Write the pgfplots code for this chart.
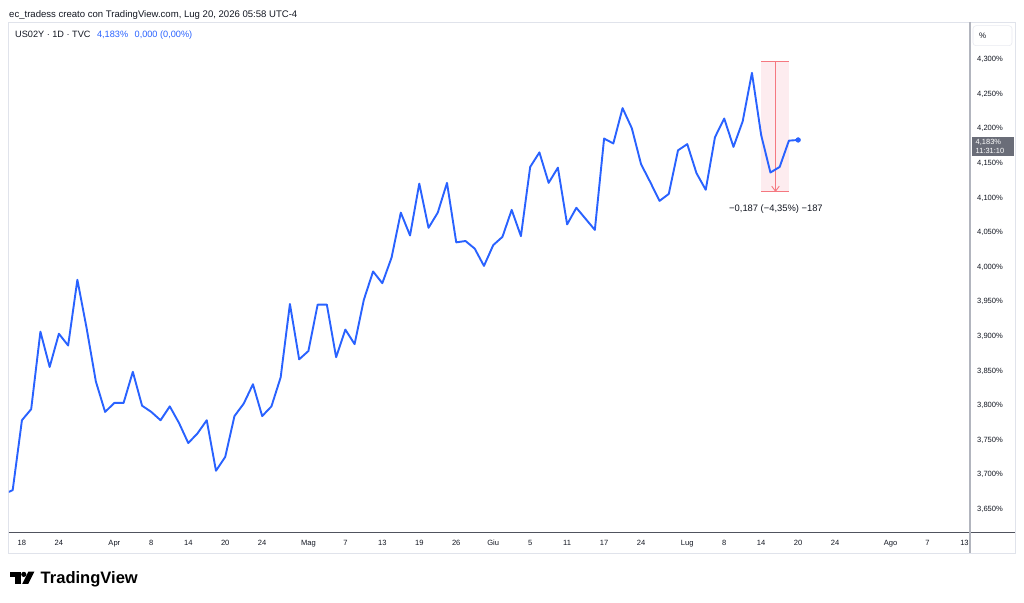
\documentclass[border=0pt]{standalone}
\usepackage{pgfplots}
\pgfplotsset{compat=1.18}
\usepackage{pgfplotstable}
\usepackage{fontspec}
\setmainfont{Liberation Sans}
\definecolor{tvblue}{HTML}{2962FF}
\definecolor{tvtext}{HTML}{131722}
\definecolor{tvframe}{HTML}{E0E3EB}
\definecolor{tvsep}{HTML}{B2B5BE}
\definecolor{tvaxis}{HTML}{50535E}
\definecolor{tvlabel}{HTML}{6A6D78}
\definecolor{mfill}{HTML}{FDEFF1}
\definecolor{mline}{HTML}{F2757C}

\pgfplotstableread{
x y
-1 3.671
0 3.677
1 3.778
2 3.794
3 3.906
4 3.855
5 3.903
6 3.886
7 3.981
8 3.911
9 3.834
10 3.790
11 3.803
12 3.803
13 3.848
14 3.799
15 3.790
16 3.778
17 3.798
18 3.774
19 3.745
20 3.759
21 3.778
22 3.705
23 3.725
24 3.784
25 3.802
26 3.830
27 3.784
28 3.798
29 3.840
30 3.946
31 3.866
32 3.878
33 3.945
34 3.945
35 3.869
36 3.909
37 3.888
38 3.952
39 3.993
40 3.976
41 4.013
42 4.078
43 4.045
44 4.120
45 4.056
46 4.078
47 4.121
48 4.035
49 4.037
50 4.026
51 4.001
52 4.031
53 4.043
54 4.082
55 4.044
56 4.144
57 4.165
58 4.121
59 4.143
60 4.061
61 4.085
62 4.069
63 4.053
64 4.185
65 4.178
66 4.229
67 4.200
68 4.148
69 4.122
70 4.095
71 4.105
72 4.168
73 4.177
74 4.135
75 4.111
76 4.187
77 4.214
78 4.173
79 4.210
80 4.280
81 4.190
82 4.136
83 4.144
84 4.182
85 4.183
}\usdata

\begin{document}
\begin{tikzpicture}[x=1bp,y=1bp]
\fill[white] (0,0) rectangle (1024,603);
\path[use as bounding box] (0,0) rectangle (1024,603);
% frame
\draw[tvframe, line width=0.8bp] (8.7,581) rectangle (1015,50);
% header
\node[anchor=base west, inner sep=0pt, font=\fontsize{9.6}{11}\selectfont, text=tvtext] at (9,585.7) {ec\_tradess creato con TradingView.com, Lug 20, 2026 05:58 UTC-4};
\node[anchor=base west, inner sep=0pt, font=\fontsize{9.2}{11}\selectfont] at (15,565.5) {\textcolor{tvtext}{US02Y · 1D · TVC}\hspace{6.5bp}\textcolor{tvblue}{4,183\%\hspace{6.5bp}0,000 (0,00\%)}};

\begin{axis}[
  at={(9bp,71bp)}, anchor=south west,
  scale only axis, width=961bp, height=510bp,
  xmin=-0.4, xmax=103.6, ymin=3.6165, ymax=4.3535,
  axis line style={draw=none},
  major tick length=0pt,
  xtick={1,5,11,15,19,23,27,32,36,40,44,48,52,56,60,64,68,73,77,81,85,89,95,99,103},
  xticklabels={18,24,Apr,8,14,20,24,Mag,7,13,19,26,Giu,5,11,17,24,Lug,8,14,20,24,Ago,7,13},
  xticklabel style={anchor=base, yshift=-14bp, font=\fontsize{7.6}{9}\selectfont, text=tvtext},
  ytick={3.65,3.70,3.75,3.80,3.85,3.90,3.95,4.00,4.05,4.10,4.15,4.20,4.25,4.30},
  yticklabels={{3,650\%},{3,700\%},{3,750\%},{3,800\%},{3,850\%},{3,900\%},{3,950\%},{4,000\%},{4,050\%},{4,100\%},{4,150\%},{4,200\%},{4,250\%},{4,300\%}},
  yticklabel pos=right,
  yticklabel style={anchor=mid west, inner sep=0pt, xshift=7bp, font=\fontsize{7.6}{9}\selectfont, text=tvtext},
]
% measure box (annotation)
\fill[fill={rgb,255:red,253;green,236;blue,239}] (axis cs:81,4.109) rectangle (axis cs:84.05,4.296);
\draw[draw={rgb,255:red,245;green,120;blue,128}, line width=1.1bp] (axis cs:81,4.296) -- (axis cs:84.05,4.296);
\draw[draw={rgb,255:red,245;green,120;blue,128}, line width=1.1bp] (axis cs:81,4.109) -- (axis cs:84.05,4.109);
\draw[draw={rgb,255:red,245;green,120;blue,128}, line width=0.9bp] (axis cs:82.55,4.296) -- (axis cs:82.55,4.109);
\draw[draw={rgb,255:red,245;green,120;blue,128}, line width=0.9bp] ([xshift=-3.8bp,yshift=5bp]axis cs:82.55,4.109) -- (axis cs:82.55,4.109) -- ([xshift=3.8bp,yshift=5bp]axis cs:82.55,4.109);
\node[font=\fontsize{9.4}{11}\selectfont, text=tvtext] at (axis cs:82.6,4.0832) {−0,187 (−4,35\%) −187};
\addplot[tvblue, line width=1.9bp, line join=round] table[x=x,y=y] {\usdata};
\addplot[only marks, mark=*, mark size=2.4bp, tvblue] coordinates {(85,4.183)};
\end{axis}

% axes lines
\draw[tvaxis, line width=0.9bp] (8.7,71) -- (1015,71);
\draw[tvsep, line width=1.3bp] (970,581) -- (970,50);
% % box
\draw[tvframe!70, rounded corners=3bp, line width=0.6bp] (973,577.3) rectangle (1012,557.3);
\node[anchor=west, inner sep=0pt, font=\fontsize{8}{9}\selectfont, text=tvtext] at (979,567.5) {\%};
% price label
\fill[tvlabel] (972,465.7) rectangle (1014,447);
\node[anchor=west, inner sep=0pt, font=\fontsize{7.5}{9}\selectfont, text=white] at (975.5,460.5) {4,183\%};
\node[anchor=west, inner sep=0pt, font=\fontsize{7.5}{9}\selectfont, text=white] at (975.5,452) {11:31:10};
% footer logo
\fill[black] (10,31.3) rectangle (20.5,26.3);
\fill[black] (15,31.3) rectangle (20.5,19);
\fill[black] (23.8,28.6) circle (2.6);
\fill[black] (28.3,31.3) -- (34.3,31.3) -- (28.2,19) -- (22.2,19) -- cycle;
\node[anchor=base west, inner sep=0pt, font=\fontsize{16.6}{18}\selectfont\bfseries, text=black] at (40.5,19.5) {TradingView};
\end{tikzpicture}
\end{document}
